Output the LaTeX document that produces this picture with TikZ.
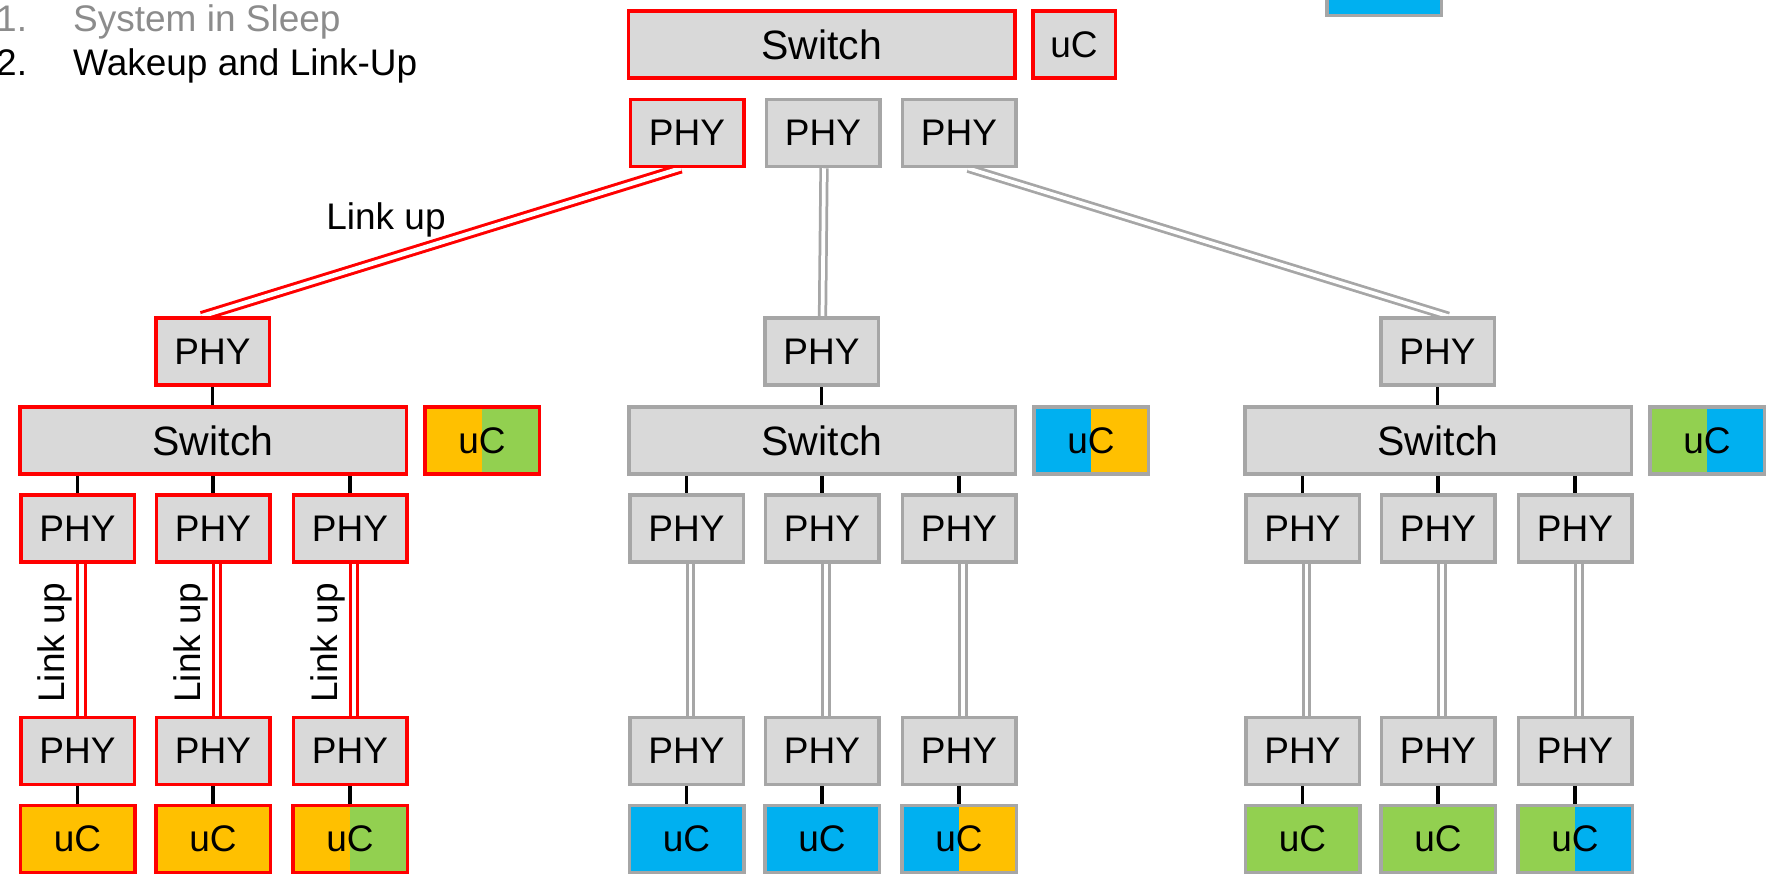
\documentclass[tikz,border=0pt]{standalone}
\usepackage{fontspec}
\setmainfont{Liberation Sans}
\usetikzlibrary{calc}
\definecolor{boxgray}{HTML}{D9D9D9}
\definecolor{edgegray}{HTML}{A6A6A6}
\definecolor{edgered}{HTML}{FF0000}
\definecolor{ucorange}{HTML}{FFC000}
\definecolor{ucgreen}{HTML}{92D050}
\definecolor{ucblue}{HTML}{00B0F0}
\definecolor{dimtext}{HTML}{8C8C8C}
\pgfdeclarelayer{bg}
\pgfsetlayers{bg,main}
\newcommand\normsize{\fontsize{37}{44}\selectfont}
\newcommand\bigsize{\fontsize{41}{49}\selectfont}
\begin{document}
\begin{tikzpicture}[x=1pt,y=-1pt,
  box/.style={draw=#1, fill=boxgray, line width=3.5pt, inner sep=0pt, font=\normsize, text=black},
  phy/.style={box=#1, minimum width=113.5pt, minimum height=67pt},
  swbox/.style={box=#1, minimum width=386.5pt, minimum height=67pt, font=\bigsize},
  ucbox/.style={box=#1, minimum width=114.5pt, minimum height=67pt},
  split/.style 2 args={path picture={
      \fill[fill=#1] (path picture bounding box.north west) rectangle (path picture bounding box.south);
      \fill[fill=#2] (path picture bounding box.north) rectangle (path picture bounding box.south east);}},
  blk/.style={draw=black, line width=3.5pt},
  dbl/.style={draw=#1, double=white, line width=2.75pt, double distance=3.75pt},
  dblred/.style={draw=edgered, double=white, line width=3pt, double distance=4.5pt},
  lbl/.style={inner sep=0pt, font=\normsize, text=black}
]
\useasboundingbox (0,0) rectangle (1766,879);
\clip (0,0) rectangle (1766,879);

% header
\node[lbl, anchor=base west, text=dimtext] (n1) at (-4,31) {1.};
\node[lbl, anchor=base west, text=dimtext] (h1) at (73,31) {System in Sleep};
\node[lbl, anchor=base west] (n2) at (-4,75) {2.};
\node[lbl, anchor=base west] (h2) at (73,75) {Wakeup and Link-Up};

% cut-off box at top right
\node[ucbox=edgegray, fill=ucblue] (leg) at (1384,-18) {};

% top switch
\node[swbox=edgered] (tsw) at (821.5,44.5) {Switch};
\node[box=edgered, minimum width=82.5pt, minimum height=67pt] (tuc) at (1074,44.5) {uC};
\node[phy=edgered] (tp1) at (687,133) {PHY};
\node[phy=edgegray] (tp2) at (823,133) {PHY};
\node[phy=edgegray] (tp3) at (959,133) {PHY};

% branches
\foreach \b/\O/\bc/\ca/\cb in {1/0/edgered/ucorange/ucgreen, 2/609/edgegray/ucblue/ucorange, 3/1225/edgegray/ucgreen/ucblue} {
  \node[phy=\bc] (mp\b) at (212.5+\O,351.5) {PHY};
  \node[swbox=\bc] (sw\b) at (213+\O,440.5) {Switch};
  \node[ucbox=\bc, split={\ca}{\cb}] (uc\b) at (482+\O,440.5) {uC};
  \foreach \i/\dx in {1/77.5,2/213,3/350} {
    \node[phy=\bc] (p\b\i) at (\dx+\O,528.5) {PHY};
    \node[phy=\bc] (q\b\i) at (\dx+\O,751) {PHY};
    \ifnum\i=3
      \node[ucbox=\bc, split={\ca}{\cb}] (u\b\i) at (\dx+\O,839) {uC};
    \else
      \node[ucbox=\bc, fill=\ca] (u\b\i) at (\dx+\O,839) {uC};
    \fi
  }
}

% labels
\node[lbl, anchor=base] (lk0) at (386,229) {Link up};
\foreach \i/\dx in {1/77.5,2/213,3/350}
  \node[lbl, rotate=90, anchor=base] (lk\i) at (\dx-13,643) {Link up};

% connectors
\begin{pgfonlayer}{bg}
\foreach \b in {1,2,3} {
  \draw[blk] (mp\b.south) -- (mp\b.south |- sw\b.north);
  \foreach \i in {1,2,3} {
    \draw[blk] (p\b\i.north |- sw\b.south) -- (p\b\i.north);
    \draw[blk] (q\b\i.south) -- (u\b\i.north);
  }
}
\foreach \i in {1,2,3}
  \draw[dblred] ($(p1\i.south)+(4,0)$) -- ($(q1\i.north)+(4,0)$);
\foreach \b in {2,3}
  \foreach \i in {1,2,3}
    \draw[dbl=edgegray] ($(p\b\i.south)+(4,0)$) -- ($(q\b\i.north)+(4,0)$);
\draw[dblred] ($(tp1.south)+(-6,0)$) -- ($(mp1.north)+(-11,0)$);
\draw[dbl=edgegray] ($(tp2.south)+(1,0)$) -- ($(mp2.north)+(1,0)$);
\draw[dbl=edgegray] ($(tp3.south)+(9,0)$) -- ($(mp3.north)+(11,0)$);
\end{pgfonlayer}
\end{tikzpicture}
\end{document}
